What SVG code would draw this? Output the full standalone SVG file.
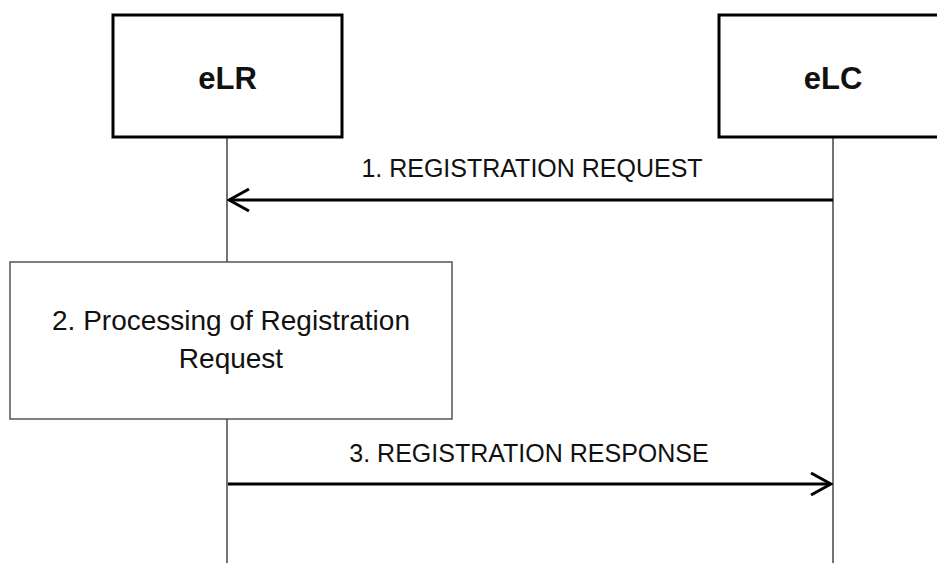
<svg xmlns="http://www.w3.org/2000/svg" width="937" height="563" viewBox="0 0 937 563">
<style>
.actor{fill:#fff;stroke:#000;stroke-width:3}
.aname{font-family:"Liberation Sans",Arial,sans-serif;font-weight:bold;font-size:31px;fill:#111;text-anchor:middle}
.life{stroke:#444;stroke-width:1.5;fill:none}
.msg{stroke:#000;stroke-width:3;fill:none}
.lbl{font-family:"Liberation Sans",Arial,sans-serif;font-size:25px;fill:#111;text-anchor:middle}
.proc{fill:#fff;stroke:#555;stroke-width:1.5}
.ptxt{font-family:"Liberation Sans",Arial,sans-serif;font-size:28px;fill:#111;text-anchor:middle}
</style>
<defs>
<marker id="arr" viewBox="0 0 24 26" refX="22" refY="13" markerWidth="24" markerHeight="26" markerUnits="userSpaceOnUse" orient="auto">
<path d="M2,2 L22,13 L2,24" fill="none" stroke="#000" stroke-width="3"/>
</marker>
</defs>
<g id="lifelines">
<line class="life" x1="227" y1="137" x2="227" y2="563"/>
<line class="life" x1="833" y1="137" x2="833" y2="563"/>
</g>
<g id="eLR">
<rect class="actor" x="113" y="15" width="229" height="122"/>
<text class="aname" x="227.5" y="89">eLR</text>
</g>
<g id="eLC">
<rect class="actor" x="719" y="15" width="229" height="122"/>
<text class="aname" x="833" y="89">eLC</text>
</g>
<g id="proc">
<rect class="proc" x="10" y="262" width="442" height="157"/>
<text class="ptxt" x="231" y="330">2. Processing of Registration</text>
<text class="ptxt" x="231" y="368">Request</text>
</g>
<g id="connectors">
<line class="msg" x1="833" y1="200" x2="229" y2="200" marker-end="url(#arr)"/>
<text class="lbl" x="532" y="177">1. REGISTRATION REQUEST</text>
<line class="msg" x1="228" y1="484" x2="831" y2="484" marker-end="url(#arr)"/>
<text class="lbl" x="529" y="462">3. REGISTRATION RESPONSE</text>
</g>
</svg>
